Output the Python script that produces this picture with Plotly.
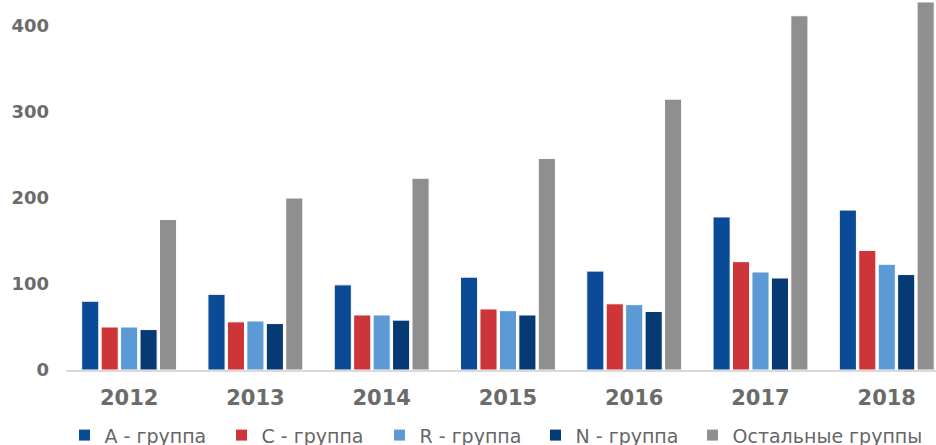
import plotly.graph_objects as go

years = ["2012", "2013", "2014", "2015", "2016", "2017", "2018"]
series_names = ["A - группа", "C - группа", "R - группа", "N - группа", "Остальные группы"]
a_group = [80, 88, 99, 108, 115, 178, 186]
c_group = [50, 56, 64, 71, 77, 126, 139]
r_group = [50, 57, 64, 69, 76, 114, 123]
n_group = [47, 54, 58, 64, 68, 107, 111]
other_groups = [175, 200, 223, 246, 315, 412, 428]
colors = ["#0A4A97", "#CD3538", "#5B9AD5", "#063A74", "#8F8F8F"]
legend_left_px = [64.5, 221.5, 379.5, 535.5, 692.5]

legend_ids = ["legend", "legend2", "legend3", "legend4", "legend5"]

fig = go.Figure()
for name, vals, col, lid in zip(series_names, [a_group, c_group, r_group, n_group, other_groups], colors, legend_ids):
    fig.add_trace(go.Bar(x=years, y=vals, name=name, legend=lid,
                         marker=dict(color=col, line=dict(color="white", width=1))))

legend_style = dict(orientation="h", xref="container", xanchor="left",
                    y=-0.125, yanchor="top",
                    font=dict(family="DejaVu Sans", size=19, color="#666666"),
                    itemclick=False, bgcolor="rgba(0,0,0,0)")
layout_legends = {}
for lid, lx in zip(legend_ids, legend_left_px):
    layout_legends[lid] = dict(legend_style, x=lx / 936)

fig.update_layout(
    width=936, height=445,
    margin=dict(l=66, r=0, t=0, b=75, autoexpand=False),
    paper_bgcolor="white", plot_bgcolor="white",
    barmode="group", bargap=0.23, bargroupgap=0.12,
    showlegend=True,
    xaxis=dict(range=[-0.5, 6.39], showgrid=False, showline=True, linecolor="#D9D9D9", linewidth=2,
               ticks="", tickfont=dict(family="DejaVu Sans", size=21, color="#6B6B6B", weight="bold"),
               ticklabelstandoff=8),
    yaxis=dict(range=[0, 430.3], showgrid=False, zeroline=False, showline=False,
               tickvals=[0, 100, 200, 300, 400], ticks="",
               tickfont=dict(family="DejaVu Sans", size=18, color="#6B6B6B", weight="bold"),
               ticklabelstandoff=16),
    **layout_legends,
)
fig.write_html("out.html")
